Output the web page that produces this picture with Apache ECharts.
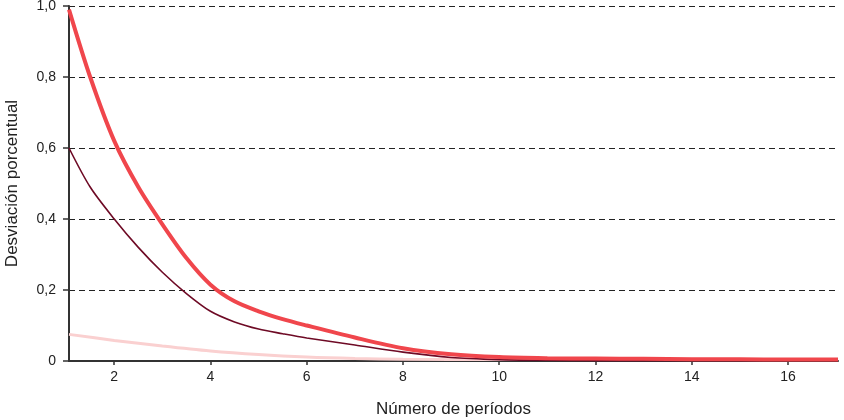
<!DOCTYPE html>
<html><head><meta charset="utf-8">
<script src="https://cdn.jsdelivr.net/npm/echarts@6/dist/echarts.min.js"></script>
<style>html,body{margin:0;padding:0;background:#fff}#c{width:844px;height:420px}</style>
</head><body><div id="c"></div>
<script>
const xTicks = [2, 4, 6, 8, 10, 12, 14, 16];
const yTicks = [0, 0.2, 0.4, 0.6, 0.8, 1.0];
const redX = [1.06, 1.5, 2, 2.5, 3, 3.5, 4, 4.5, 5, 5.5, 6, 7, 8, 9, 10, 11, 12, 13, 14, 15, 16, 17.04];
const redY = [0.99, 0.80, 0.62, 0.49, 0.385, 0.29, 0.215, 0.168, 0.14, 0.118, 0.10, 0.066, 0.036, 0.019, 0.011, 0.008, 0.007, 0.006, 0.005, 0.005, 0.004, 0.004];
const maroonX = [1.06, 1.5, 2, 2.5, 3, 3.5, 4, 4.5, 5, 5.5, 6, 7, 8, 9, 10, 11, 12, 14, 17.04];
const maroonY = [0.60, 0.49, 0.40, 0.32, 0.25, 0.19, 0.14, 0.11, 0.09, 0.077, 0.065, 0.045, 0.025, 0.010, 0.004, 0.002, 0.001, 0.001, 0.001];
const pinkX = [1.06, 2, 3, 4, 5, 6, 7, 8, 10, 12, 14, 17.04];
const pinkY = [0.075, 0.058, 0.042, 0.028, 0.018, 0.011, 0.007, 0.005, 0.004, 0.004, 0.004, 0.004];

const zip = (xs, ys) => xs.map((x, i) => [x, ys[i]]);
const chart = echarts.init(document.getElementById('c'));
const font = 'Liberation Sans, Arial, sans-serif';
chart.setOption({
  animation: false,
  grid: { left: 69, right: 6, top: 6, bottom: 59, outerBoundsMode: 'none', containLabel: false },
  xAxis: {
    type: 'value', min: 1.06, max: 17.04,
    name: 'Número de períodos', nameLocation: 'middle', nameGap: 40,
    nameTextStyle: { fontFamily: font, fontSize: 17, color: '#222' },
    axisLine: { lineStyle: { color: '#333', width: 2 } },
    axisTick: { customValues: xTicks, length: 4, lineStyle: { color: '#333', width: 1.5 } },
    axisLabel: { customValues: xTicks, fontFamily: font, fontSize: 14, color: '#222', margin: 9 },
    splitLine: { show: false }
  },
  yAxis: {
    type: 'value', min: 0, max: 1, interval: 0.2,
    name: 'Desviación porcentual', nameLocation: 'middle', nameGap: 48, nameRotate: 90,
    nameTextStyle: { fontFamily: font, fontSize: 17, color: '#222' },
    axisLine: { show: true, lineStyle: { color: '#333', width: 2 } },
    axisTick: { show: true, length: 6, lineStyle: { color: '#333', width: 1.5 } },
    axisLabel: { fontFamily: font, fontSize: 14, color: '#222', margin: 13,
      formatter: v => v === 0 ? '0' : v.toFixed(1).replace('.', ',') },
    splitLine: { show: true, lineStyle: { color: '#222', type: [6, 4], width: 1 } }
  },
  series: [
    { type: 'line', data: zip(pinkX, pinkY), smooth: 0.3, showSymbol: false,
      lineStyle: { color: '#fad0d0', width: 3 } },
    { type: 'line', data: zip(maroonX, maroonY), smooth: 0.3, showSymbol: false,
      lineStyle: { color: '#6e0a25', width: 1.6 } },
    { type: 'line', data: zip(redX, redY), smooth: 0.3, showSymbol: false,
      lineStyle: { color: '#f0464c', width: 4 } }
  ]
});
</script></body></html>
